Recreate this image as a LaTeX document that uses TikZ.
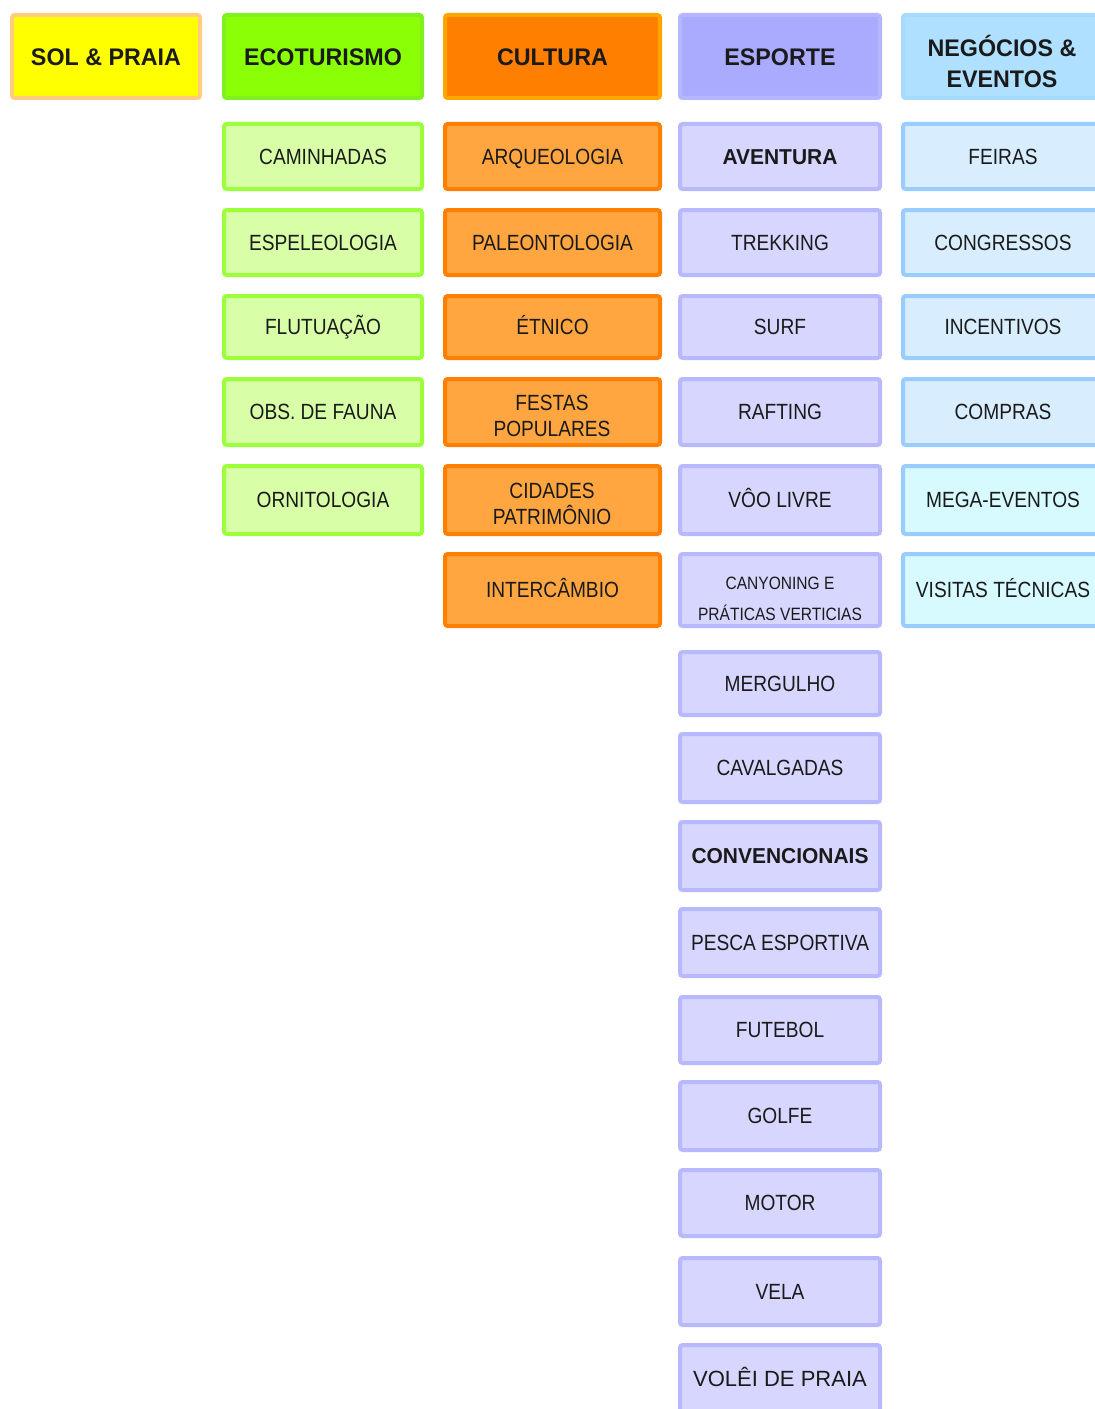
\documentclass[tikz,border=0pt]{standalone}
\usepackage{fontspec}
\setmainfont{Liberation Sans}
\newfontfamily\hdrfont{Liberation Sans}[FakeStretch=0.97]
\newfontfamily\subfont{Liberation Sans}[FakeStretch=0.87]
\definecolor{solfill}{HTML}{FFFF00}
\definecolor{soldraw}{HTML}{FFCC80}
\definecolor{ecofill}{HTML}{8AFF05}
\definecolor{ecodraw}{HTML}{80F020}
\definecolor{ecosubfill}{HTML}{D8FFA8}
\definecolor{ecosubdraw}{HTML}{9CFF3C}
\definecolor{culfill}{HTML}{FF7F00}
\definecolor{culdraw}{HTML}{FFA500}
\definecolor{culsubfill}{HTML}{FFA640}
\definecolor{culsubdraw}{HTML}{FF7F00}
\definecolor{espfill}{HTML}{AAAAFF}
\definecolor{espdraw}{HTML}{B6B6FF}
\definecolor{espsubfill}{HTML}{D6D6FF}
\definecolor{espsubdraw}{HTML}{B8B8FF}
\definecolor{negfill}{HTML}{B0E0FF}
\definecolor{negdraw}{HTML}{A8DAFF}
\definecolor{negsubfill}{HTML}{D8EEFF}
\definecolor{negsubdraw}{HTML}{99CCFF}
\definecolor{negcyanfill}{HTML}{D6FAFF}
\definecolor{txt}{HTML}{1A1A1A}
\newcommand\mybox[7]{\node[#6, minimum width={(#3-#2)*0.75pt-3pt}, minimum height={(#5-#4)*0.75pt-3pt}] (#1) at ({(#2+#3)/2},{(#4+#5)/2}) {#7};}
\tikzset{
  base/.style={draw, rounded corners=2pt, line width=3pt, align=center, inner sep=0pt, text=txt, text depth=0pt},
  hfnt/.style={font={\hdrfont\bfseries\fontsize{18pt}{24.75pt}\selectfont}, text height=12.9pt},
  sfnt/.style={font={\subfont\fontsize{16.5pt}{19.5pt}\selectfont}, text height=11.8pt},
  bfnt/.style={font={\hdrfont\bfseries\fontsize{16.2pt}{19.5pt}\selectfont}, text height=11.6pt},
  cfnt/.style={font={\subfont\fontsize{13.4pt}{23pt}\selectfont}, text height=9.6pt},
  hdr/.style={base, hfnt},
  sub/.style={base, sfnt},
  subb/.style={base, bfnt},
  line/.style={inner sep=0pt, text=txt, text depth=0pt},
  sol/.style={hdr, fill=solfill, draw=soldraw},
  eco/.style={hdr, fill=ecofill, draw=ecodraw},
  cul/.style={hdr, fill=culfill, draw=culdraw},
  esp/.style={hdr, fill=espfill, draw=espdraw},
  neg/.style={hdr, fill=negfill, draw=negdraw},
  ecos/.style={sub, fill=ecosubfill, draw=ecosubdraw},
  culs/.style={sub, fill=culsubfill, draw=culsubdraw},
  esps/.style={sub, fill=espsubfill, draw=espsubdraw},
  espb/.style={subb, fill=espsubfill, draw=espsubdraw},
  negs/.style={sub, fill=negsubfill, draw=negsubdraw},
  negc/.style={sub, fill=negcyanfill, draw=negsubdraw},
}
\begin{document}
\begin{tikzpicture}[x=0.75pt, y=-0.75pt]
\useasboundingbox (0,0) rectangle (1095,1409);
\fill[white] (0,0) rectangle (1095,1409);
\clip (0,0) rectangle (1095,1409);
% headers
\mybox{sol}{10}{202}{13}{100}{sol}{SOL \& PRAIA}
\mybox{eco}{222}{424}{13}{100}{eco}{ECOTURISMO}
\mybox{cul}{443}{662}{13}{100}{cul}{CULTURA}
\mybox{esp}{678}{882}{13}{100}{esp}{ESPORTE}
\mybox{neg}{901}{1105}{13}{100}{neg}{}
\node[line, hfnt] (negA) at (1002,48) {NEGÓCIOS \&};
\node[line, hfnt] (negB) at (1002,79) {EVENTOS};
% ecoturismo
\mybox{eco1}{222}{424}{122}{191}{ecos}{CAMINHADAS}
\mybox{eco2}{222}{424}{208}{277}{ecos}{ESPELEOLOGIA}
\mybox{eco3}{222}{424}{294}{360}{ecos}{FLUTUAÇÃO}
\mybox{eco4}{222}{424}{377}{447}{ecos}{OBS. DE FAUNA}
\mybox{eco5}{222}{424}{464}{536}{ecos}{ORNITOLOGIA}
% cultura
\mybox{cul1}{443}{662}{122}{191}{culs}{ARQUEOLOGIA}
\mybox{cul2}{443}{662}{208}{277}{culs}{PALEONTOLOGIA}
\mybox{cul3}{443}{662}{294}{360}{culs}{ÉTNICO}
\mybox{cul4}{443}{662}{377}{447}{culs}{}
\node[line, sfnt] (cul4a) at (552,403) {FESTAS};
\node[line, sfnt] (cul4b) at (552,429) {POPULARES};
\mybox{cul5}{443}{662}{464}{536}{culs}{}
\node[line, sfnt] (cul5a) at (552,491) {CIDADES};
\node[line, sfnt] (cul5b) at (552,517) {PATRIMÔNIO};
\mybox{cul6}{443}{662}{552}{628}{culs}{INTERCÂMBIO}
% esporte
\mybox{esp1}{678}{882}{122}{191}{espb}{AVENTURA}
\mybox{esp2}{678}{882}{208}{277}{esps}{TREKKING}
\mybox{esp3}{678}{882}{294}{360}{esps}{SURF}
\mybox{esp4}{678}{882}{377}{447}{esps}{RAFTING}
\mybox{esp5}{678}{882}{464}{536}{esps}{VÔO LIVRE}
\mybox{esp6}{678}{882}{552}{628}{esps}{}
\node[line, cfnt] (esp6a) at (780,583.5) {CANYONING E};
\node[line, cfnt] (esp6b) at (780,614.5) {PRÁTICAS VERTICIAS};
\mybox{esp7}{678}{882}{650}{717}{esps}{MERGULHO}
\mybox{esp8}{678}{882}{732}{804}{esps}{CAVALGADAS}
\mybox{esp9}{678}{882}{820}{892}{espb}{CONVENCIONAIS}
\mybox{esp10}{678}{882}{907}{978}{esps}{PESCA ESPORTIVA}
\mybox{esp11}{678}{882}{995}{1065}{esps}{FUTEBOL}
\mybox{esp12}{678}{882}{1080}{1152}{esps}{GOLFE}
\mybox{esp13}{678}{882}{1168}{1238}{esps}{MOTOR}
\mybox{esp14}{678}{882}{1256}{1327}{esps}{VELA}
\mybox{esp15}{678}{882}{1343}{1415}{esps,font={\fontsize{16.5pt}{19.5pt}\selectfont}}{VOLÊI DE PRAIA}
% negocios
\mybox{neg1}{901}{1105}{122}{191}{negs}{FEIRAS}
\mybox{neg2}{901}{1105}{208}{277}{negs}{CONGRESSOS}
\mybox{neg3}{901}{1105}{294}{360}{negs}{INCENTIVOS}
\mybox{neg4}{901}{1105}{377}{447}{negs}{COMPRAS}
\mybox{neg5}{901}{1105}{464}{536}{negc}{MEGA-EVENTOS}
\mybox{neg6}{901}{1105}{552}{628}{negc}{VISITAS TÉCNICAS}
\end{tikzpicture}
\end{document}
